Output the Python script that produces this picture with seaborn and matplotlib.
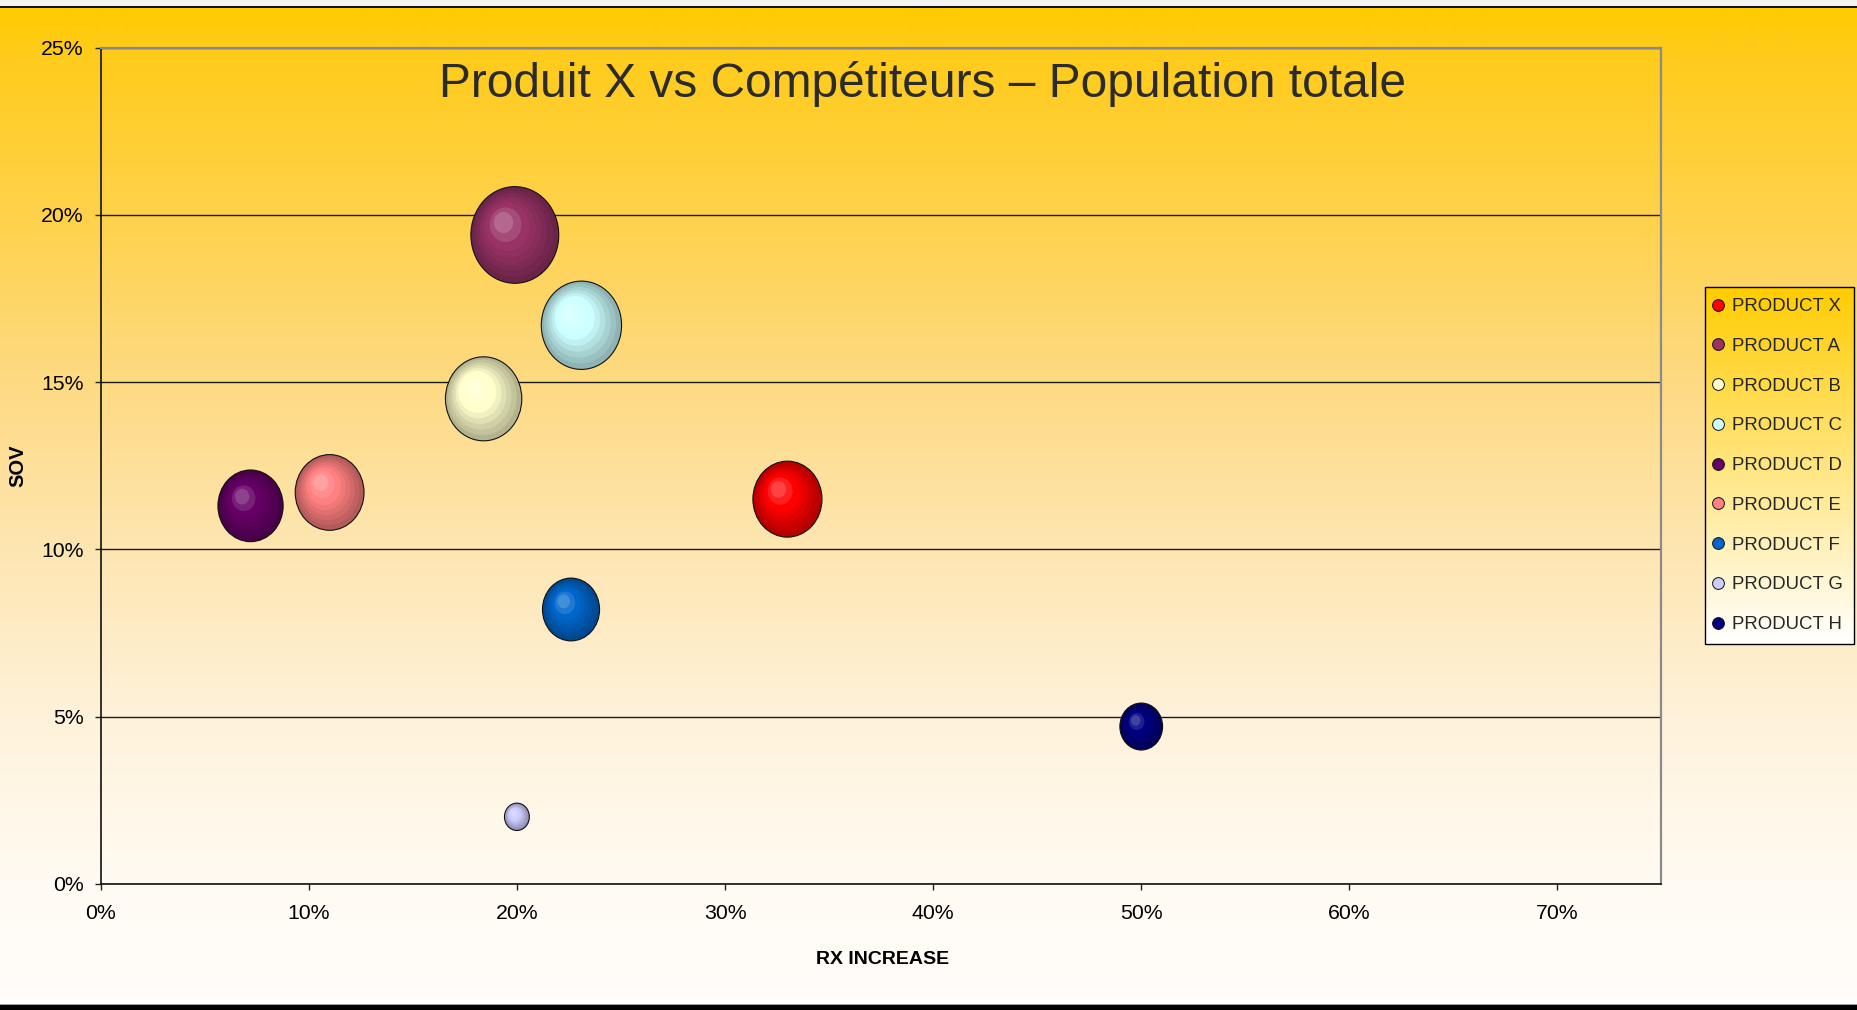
import numpy as np
import pandas as pd
import matplotlib
matplotlib.use("Agg")
import matplotlib.pyplot as plt
import seaborn as sns
from matplotlib.markers import MarkerStyle
from matplotlib.path import Path
from matplotlib.transforms import Affine2D
from matplotlib.lines import Line2D
import matplotlib.colors as mcolors

# ---------------- data ----------------
products = ["PRODUCT X", "PRODUCT A", "PRODUCT B", "PRODUCT C", "PRODUCT D",
            "PRODUCT E", "PRODUCT F", "PRODUCT G", "PRODUCT H"]
rx_increase = [33.0, 19.9, 18.4, 23.1, 7.2, 11.0, 22.6, 20.0, 50.0]   # %
sov = [11.5, 19.4, 14.5, 16.7, 11.3, 11.7, 8.2, 2.0, 4.7]             # %
bubble_size = [61.8, 100.0, 75.5, 83.4, 55.0, 61.3, 42.2, 8.0, 23.6]
colors = ["#FF0000", "#993366", "#FFFFCC", "#CCFFFF", "#660066",
          "#FF8080", "#0066CC", "#CCCCFF", "#000080"]
x_ticks = [0, 10, 20, 30, 40, 50, 60, 70]
x_tick_labels = ["0%", "10%", "20%", "30%", "40%", "50%", "60%", "70%"]
y_ticks = [0, 5, 10, 15, 20, 25]
y_tick_labels = ["0%", "5%", "10%", "15%", "20%", "25%"]
title = "Produit X vs Compétiteurs – Population totale"
x_label = "RX INCREASE"
y_label = "SOV"

df = pd.DataFrame({"product": products, "rx": rx_increase, "sov": sov,
                   "bubble": bubble_size})

# ---------------- style ----------------
sns.set_style("white")
plt.rcParams["font.family"] = ["Liberation Sans", "DejaVu Sans"]

W, H = 1858, 1010
fig = plt.figure(figsize=(W / 100, H / 100), dpi=100)

# background gradient (figure)
bg = fig.add_axes([0, 0, 1, 1], zorder=-10)
stops_y = [0, 8, 48, 215, 381, 550, 717, 884, 1005, 1010]
stops_c = [(255, 203, 0), (255, 203, 0), (255, 203, 25), (255, 210, 75),
           (253, 218, 130), (254, 230, 178), (255, 242, 218),
           (255, 251, 243), (255, 253, 250), (255, 253, 250)]
yy = np.arange(H)
grad = np.stack([np.interp(yy, stops_y, [c[i] for c in stops_c]) for i in range(3)], axis=-1) / 255.0
bg.imshow(grad[:, None, :], aspect="auto", extent=[0, 1, H, 0], interpolation="bilinear")
bg.axhspan(0, 6, color="#F4F4F4", lw=0)
bg.axhspan(6, 8, color="#111111", lw=0)
bg.axhspan(1003.5, 1005, color="#A0A0A0", lw=0)
bg.axhspan(1005, 1010, color="#000000", lw=0)
bg.set_xlim(0, 1)
bg.set_ylim(H, 0)
bg.axis("off")

# main axes
ax = fig.add_axes([100.7 / W, 1 - 883.7 / H, (1661.5 - 100.7) / W, (883.7 - 47.7) / H])
ax.set_facecolor("none")
ax.set_xlim(0, 75)
ax.set_ylim(0, 25)
ax.set_axisbelow(True)
ax.yaxis.grid(True, color="#1A1A1A", lw=1.0)
ax.xaxis.grid(False)

# ---------------- bubbles (layered for a sphere look) ----------------
ASPECT = 1.1
ell = Path.unit_circle().transformed(Affine2D().scale(1 / ASPECT, 1.0))
layers = [  # (scale, shade factor (<1 darken), whiten amount)
    (1.00, 0.70, 0.0), (0.90, 0.76, 0.0), (0.80, 0.82, 0.0), (0.70, 0.88, 0.0),
    (0.60, 0.94, 0.0), (0.50, 1.00, 0.0), (0.36, 1.00, 0.12), (0.22, 1.00, 0.26),
]
SMAX = 69.6 ** 2


def shade(c, fac, wh):
    r = np.array(mcolors.to_rgb(c)) * fac
    r = r + (1 - r) * wh
    return tuple(np.clip(r, 0, 1))


for i, (f, fac, wh) in enumerate(layers):
    off = (1 - f)
    mk = MarkerStyle(ell, transform=Affine2D().scale(f).translate(-0.15 * off, 0.165 * off))
    pal = {p: shade(c, fac, wh) for p, c in zip(products, colors)}
    kw = dict(edgecolor="#111111", linewidth=0.8) if i == 0 else dict(edgecolor="none", linewidth=0)
    sns.scatterplot(data=df, x="rx", y="sov", hue="product", palette=pal,
                    size="bubble", sizes=(0, SMAX), size_norm=(0, 100),
                    marker=mk, legend=False, ax=ax, zorder=3 + i, **kw)

# ---------------- axes cosmetics ----------------
ax.set_xticks(x_ticks)
ax.set_xticklabels(x_tick_labels)
ax.set_yticks(y_ticks)
ax.set_yticklabels(y_tick_labels)
ax.set_xlabel("")
ax.set_ylabel("")
ax.tick_params(axis="x", labelsize=15.3, length=4.3, width=1, color="#222222",
               direction="out", pad=10, labelcolor="black", bottom=True)
ax.tick_params(axis="y", labelsize=15.3, length=4.3, width=1, color="#222222",
               direction="out", pad=8, labelcolor="black", left=True)
for s in ["left", "bottom"]:
    ax.spines[s].set_color("#111111")
    ax.spines[s].set_linewidth(1.2)
for s in ["top", "right"]:
    ax.spines[s].set_color("#8A8A8A")
    ax.spines[s].set_linewidth(1.6)

fig.text(922.5 / W, 1 - 97 / H, title, ha="center", va="baseline",
         fontsize=34.5, color="#2B2B2B")
fig.text(883 / W, 1 - 960 / H, x_label, ha="center", va="center",
         fontsize=14, fontweight="bold", color="black")
fig.text(18 / W, 1 - 466 / H, y_label, ha="center", va="center", rotation=90,
         fontsize=14.5, fontweight="bold", color="black")

# ---------------- legend ----------------
handles = [Line2D([], [], marker="o", linestyle="none", markerfacecolor=c,
                  markeredgecolor="#111111", markeredgewidth=0.7, markersize=8.5)
           for c in colors]
leg = fig.legend(handles, products, loc="upper left",
                 bbox_to_anchor=(1705 / W, 1 - 287 / H), bbox_transform=fig.transFigure,
                 frameon=True, fancybox=False, edgecolor="black", facecolor="none",
                 framealpha=1, fontsize=13.4, handlelength=0.25, handletextpad=0.62,
                 labelspacing=1.22, borderpad=0.6, borderaxespad=0)
leg.get_frame().set_linewidth(1.0)
leg.set_zorder(6)

fig.canvas.draw()
bb = leg.get_window_extent().transformed(fig.transFigure.inverted())
lg = fig.add_axes([bb.x0, bb.y0, bb.width, bb.height], zorder=5)
top_c = np.array([1.0, 204 / 255, 0.0])
lgrad = top_c + np.linspace(0, 1, 200)[:, None, None] * (np.ones(3) - top_c)
lg.imshow(lgrad, aspect="auto", extent=[0, 1, 1, 0])
lg.axis("off")

fig.savefig("out.png", dpi=100)
